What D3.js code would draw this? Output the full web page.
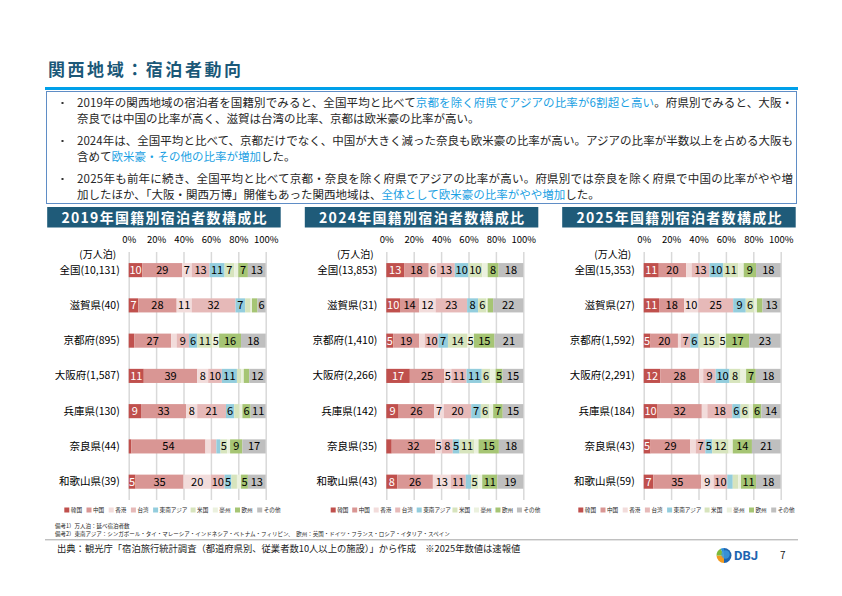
<!DOCTYPE html>
<html>
<head>
<meta charset="utf-8">
<script src="https://cdn.jsdelivr.net/npm/d3@7"></script>
<style>
  body { margin: 0; background: #fff; }
  svg { display: block; font-family: "Noto Sans CJK JP", "Noto Sans", sans-serif; }
</style>
</head>
<body>
<div id="page"></div>
<script>
// categories
const countries = ["韓国", "中国", "香港", "台湾", "東南アジア", "米国", "豪州", "欧州", "その他"]
const prefs = ["全国", "滋賀県", "京都府", "大阪府", "兵庫県", "奈良県", "和歌山県"]
const ticks = [0, 0.2, 0.4, 0.6, 0.8, 1]

// total guest nights (万人泊)
const totals2019 = ["10,131", "40", "895", "1,587", "130", "44", "39"]
const totals2024 = ["13,853", "31", "1,410", "2,266", "142", "35", "43"]
const totals2025 = ["15,353", "27", "1,592", "2,291", "184", "43", "59"]

// share (%) per prefecture, in the order of countries
const shares2019 = [
    [10, 29, 7, 13, 11, 7, 3, 7, 13],
    [7, 28, 11, 32, 7, 4, 1, 4, 6],
    [4, 27, 4, 9, 6, 11, 5, 16, 18],
    [11, 39, 8, 10, 11, 3, 2, 4, 12],
    [9, 33, 8, 21, 6, 4, 2, 6, 11],
    [2, 54, 4, 4, 3, 5, 2, 9, 17],
    [5, 35, 20, 10, 5, 4, 3, 5, 13]
]
const shares2024 = [
    [13, 18, 6, 13, 10, 10, 4, 8, 18],
    [10, 14, 12, 23, 8, 6, 1, 4, 22],
    [5, 19, 4, 10, 7, 14, 5, 15, 21],
    [17, 25, 5, 11, 11, 6, 4, 5, 15],
    [9, 26, 7, 20, 7, 6, 3, 7, 15],
    [4, 32, 5, 8, 5, 11, 3, 15, 18],
    [8, 26, 13, 11, 4, 5, 3, 11, 19]
]
const shares2025 = [
    [11, 20, 4, 13, 10, 11, 4, 9, 18],
    [11, 18, 10, 25, 9, 6, 2, 4, 13],
    [5, 20, 2, 7, 6, 15, 5, 17, 23],
    [12, 28, 3, 9, 10, 8, 4, 7, 18],
    [10, 32, 4, 18, 6, 6, 3, 6, 14],
    [5, 29, 4, 7, 5, 12, 3, 14, 21],
    [7, 35, 9, 10, 4, 4, 2, 11, 18]
]

const colors = ["#C0504D", "#D99694", "#F2DCDB", "#E6B9B8", "#93CDDD", "#D7E4BD", "#EBF1DE", "#A6C574", "#BFBFBF"]
const navy = "#1F5B79"
const skyBlue = "#1A9FE3"

let svg = d3.select("#page")
    .append("svg")
    .attr("width", 842)
    .attr("height", 596)

// header
svg.append("text")
    .attr("x", 48).attr("y", 76)
    .attr("font-size", 17).attr("font-weight", "bold")
    .attr("fill", "#1B5878")
    .attr("textLength", 193).attr("lengthAdjust", "spacing")
    .text("関西地域：宿泊者動向")

svg.append("rect")
    .attr("x", 45).attr("y", 87).attr("width", 753).attr("height", 3)
    .attr("fill", "#00A0E9")

svg.append("rect")
    .attr("x", 46.5).attr("y", 91.5).attr("width", 750).attr("height", 112)
    .attr("fill", "none").attr("stroke", "#5F8DC6").attr("stroke-width", 1)

// bullet text: [segments, baseline, stretch to full width?, bullet?]
const lines = [
    [[["2019年の関西地域の宿泊者を国籍別でみると、全国平均と比べて", 0], ["京都を除く府県でアジアの比率が6割超と高い", 1], ["。府県別でみると、大阪・", 0]], 107, true, true],
    [[["奈良では中国の比率が高く、滋賀は台湾の比率、京都は欧米豪の比率が高い。", 0]], 123, false, false],
    [[["2024年は、全国平均と比べて、京都だけでなく、中国が大きく減った奈良も欧米豪の比率が高い。アジアの比率が半数以上を占める大阪も", 0]], 145, true, true],
    [[["含めて", 0], ["欧米豪・その他の比率が増加", 1], ["した。", 0]], 161, false, false],
    [[["2025年も前年に続き、全国平均と比べて京都・奈良を除く府県でアジアの比率が高い。府県別では奈良を除く府県で中国の比率がやや増", 0]], 183, true, true],
    [[["加したほか、「大阪・関西万博」開催もあった関西地域は、", 0], ["全体として欧米豪の比率がやや増加", 1], ["した。", 0]], 199, false, false]
]

lines.forEach(([segs, yy, stretch, bullet]) => {
    if (bullet) {
        svg.append("rect")
            .attr("x", 61.5).attr("y", yy - 5).attr("width", 2).attr("height", 2)
            .attr("fill", "#333")
    }
    let t = svg.append("text")
        .attr("x", 77).attr("y", yy)
        .attr("font-size", 11.5)
        .attr("fill", "#262626")
    if (stretch) t.attr("textLength", 716).attr("lengthAdjust", "spacing")
    segs.forEach(([s, hl]) => {
        t.append("tspan").attr("fill", hl ? skyBlue : "#262626").text(s)
    })
})

const drawChart = (cx, year, totals, shares, legendX, legendUnit) => {
    let rows = prefs.map((p, i) => {
        let o = { pref: p }
        countries.forEach((c, j) => { o[c] = shares[i][j] })
        return o
    })
    let series = d3.stack().keys(countries).offset(d3.stackOffsetExpand)(rows)

    let x = d3.scaleLinear()
        .domain([0, 1])
        .range([cx, cx + 137])

    let y = d3.scaleBand()
        .domain(prefs)
        .range([252.5, 499.3])
        .paddingInner(0.6)
        .paddingOuter(0.3)

    // title bar
    svg.append("rect")
        .attr("x", cx - 81.5).attr("y", 207)
        .attr("width", 233.5).attr("height", 20.5)
        .attr("fill", navy)
    svg.append("text")
        .attr("x", cx - 81.5 + 116.75).attr("y", 222.5)
        .attr("text-anchor", "middle")
        .attr("font-size", 14).attr("font-weight", "bold")
        .attr("fill", "#fff")
        .attr("textLength", 205).attr("lengthAdjust", "spacing")
        .text(year + "年国籍別宿泊者数構成比")

    // gridlines
    svg.append("g")
        .attr("transform", "translate(0,252)")
        .call(d3.axisBottom(x).tickValues(ticks).tickSize(248).tickFormat(""))
        .call(g => g.select(".domain").remove())
        .selectAll("line")
        .attr("stroke", "#D9D9D9")
        .attr("stroke-width", 1.5)

    // top tick labels
    svg.append("g")
        .attr("transform", "translate(0,246)")
        .call(d3.axisTop(x).tickValues(ticks).tickSize(0).tickPadding(3).tickFormat(d3.format(".0%")))
        .call(g => g.select(".domain").remove())
        .selectAll("text")
        .attr("font-family", '"Noto Sans CJK JP", sans-serif')
        .attr("font-size", 9.5)
        .attr("fill", "#000")

    svg.append("text")
        .attr("x", cx - 31).attr("y", 257.5)
        .attr("text-anchor", "middle")
        .attr("font-size", 10)
        .attr("fill", "#000")
        .text("(万人泊)")

    // bars
    svg.append("g")
        .selectAll("g")
        .data(series)
        .enter()
        .append("g")
        .attr("fill", (d, i) => colors[i])
        .selectAll("rect")
        .data(d => d)
        .enter()
        .append("rect")
        .attr("x", d => x(d[0]))
        .attr("y", d => y(d.data.pref))
        .attr("width", d => x(d[1]) - x(d[0]))
        .attr("height", y.bandwidth())

    // value labels
    series.forEach((s, i) => {
        svg.append("g")
            .selectAll("text")
            .data(s.filter(d => d.data[s.key] >= 5))
            .enter()
            .append("text")
            .attr("x", d => x((d[0] + d[1]) / 2))
            .attr("y", d => y(d.data.pref) + y.bandwidth() / 2)
            .attr("dy", "0.36em")
            .attr("text-anchor", "middle")
            .attr("font-size", 11)
            .attr("fill", i === 0 ? "#fff" : "#000")
            .text(d => d.data[s.key])
    })

    // category axis
    svg.append("g")
        .attr("transform", "translate(" + cx + ",0)")
        .call(d3.axisLeft(y).tickSize(0).tickPadding(9).tickFormat(d => d + "(" + totals[prefs.indexOf(d)] + ")"))
        .call(g => g.select(".domain").remove())
        .selectAll("text")
        .attr("font-family", '"Noto Sans CJK JP", sans-serif')
        .attr("font-size", 10.5)
        .attr("fill", "#000")

    // legend
    let lx = legendX
    countries.forEach((c, i) => {
        svg.append("rect")
            .attr("x", lx).attr("y", 507.5)
            .attr("width", 5).attr("height", 5)
            .attr("fill", colors[i])
        svg.append("text")
            .attr("x", lx + 6.5).attr("y", 512.3)
            .attr("font-size", 5.6)
            .attr("fill", "#222")
            .text(c)
        lx += 12 + c.length * legendUnit
    })
}

drawChart(128.7, 2019, totals2019, shares2019, 64.3, 5.1)
drawChart(386.3, 2024, totals2024, shares2024, 330.7, 4.75)
drawChart(643.7, 2025, totals2025, shares2025, 578.3, 5.1)

// notes
svg.append("text")
    .attr("x", 55).attr("y", 527.8)
    .attr("font-size", 5.5).attr("fill", "#222")
    .text("備考1）万人泊：延べ宿泊者数")
svg.append("text")
    .attr("x", 55).attr("y", 536.3)
    .attr("font-size", 5.5).attr("fill", "#222")
    .text("備考2）東南アジア：シンガポール・タイ・マレーシア・インドネシア・ベトナム・フィリピン、　欧州：英国・ドイツ・フランス・ロシア・イタリア・スペイン")

svg.append("line")
    .attr("x1", 45).attr("x2", 798)
    .attr("y1", 539.8).attr("y2", 539.8)
    .attr("stroke", "#A6A6A6").attr("stroke-width", 1)

svg.append("text")
    .attr("x", 57).attr("y", 552)
    .attr("font-size", 9.3).attr("fill", "#222")
    .text("出典：観光庁「宿泊旅行統計調査（都道府県別、従業者数10人以上の施設）」から作成　※2025年数値は速報値")

// logo
const logo = svg.append("g").attr("transform", "translate(724,555.5)")
const arc = d3.arc().innerRadius(0).outerRadius(7.5)
const logoParts = [["#F29A1F", Math.PI, Math.PI * 1.5], ["#7DBA3A", Math.PI * 1.5, Math.PI * 1.85], ["#1D64B0", 0, Math.PI], ["#2F8FD8", Math.PI * 1.85, Math.PI * 2]]
logoParts.forEach(([c, a0, a1]) => {
    logo.append("path").attr("d", arc({ startAngle: a0, endAngle: a1 })).attr("fill", c)
})
logo.append("circle").attr("cx", 1.5).attr("cy", -1).attr("r", 4.2).attr("fill", "#3E9BE0").attr("opacity", 0.8)

svg.append("text")
    .attr("x", 734).attr("y", 560)
    .attr("font-size", 13).attr("font-weight", "bold")
    .attr("font-family", "Roboto, sans-serif")
    .attr("fill", "#1D64B0")
    .text("DBJ")

svg.append("text")
    .attr("x", 780).attr("y", 559)
    .attr("font-size", 10).attr("fill", "#222")
    .text("7")
</script>
</body>
</html>
